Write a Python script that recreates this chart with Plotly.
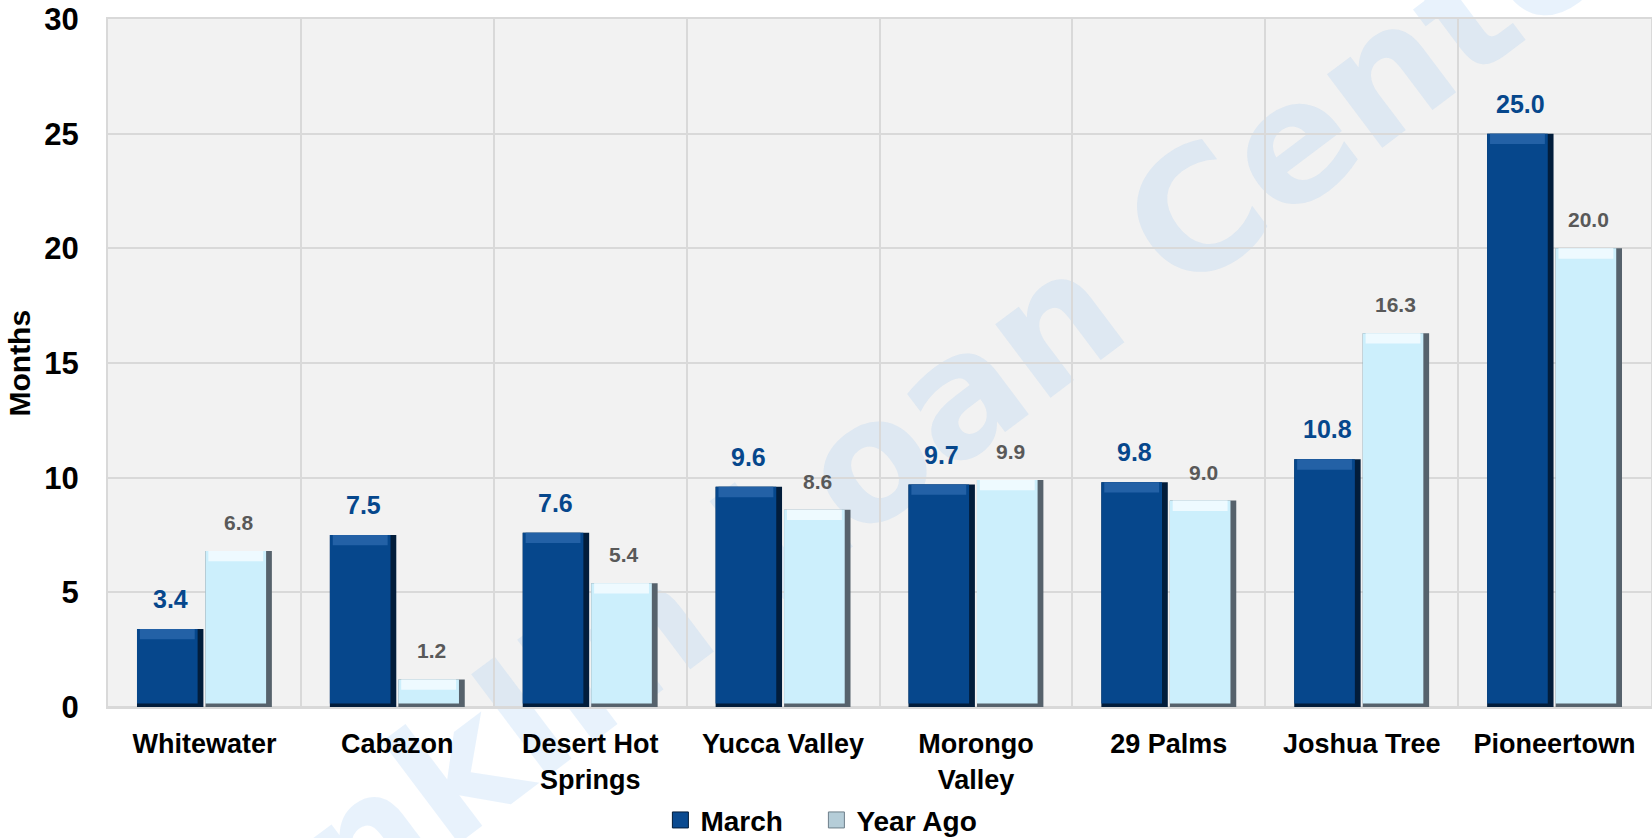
import plotly.graph_objects as go

categories = ["Whitewater", "Cabazon", "Desert Hot<br>Springs", "Yucca Valley",
              "Morongo<br>Valley", "29 Palms", "Joshua Tree", "Pioneertown"]
march = [3.4, 7.5, 7.6, 9.6, 9.7, 9.8, 10.8, 25.0]
year_ago = [6.8, 1.2, 5.4, 8.6, 9.9, 9.0, 16.3, 20.0]
series_names = ["March", "Year Ago"]
y_ticks = [0, 5, 10, 15, 20, 25, 30]
watermark = "Franklin Loan Center"

FONT = "Liberation Sans, Arial, sans-serif"
GRID = "#D9D9D9"

# style per series: body, top bevel, right/bottom edge, label colour/size
styles = [
    dict(body="#06478C", top="#2361A6", edge="#021D3B", label="#06478C", size=25, shift=14),
    dict(body="#CCEFFC", top="#EEFAFF", edge="#56626C", label="#595959", size=21, shift=15),
]

BARGAP = 0.29
GROUPGAP = 0.03
slot = (1 - BARGAP) / 2
w = slot * (1 - GROUPGAP)          # bar width (category units)
EDGE = 0.03                         # right-edge shade width (category units)
TOP = 0.45                          # top bevel height (value units)
BOTTOM = 0.15                       # bottom edge shade (value units)

fig = go.Figure()
for k, (vals, st) in enumerate(zip([march, year_ago], styles)):
    c = -slot / 2 if k == 0 else slot / 2
    left = c - w / 2
    fig.add_trace(go.Bar(x=categories, y=vals, offset=left, width=w,
                         marker=dict(color=st["edge"], line=dict(width=0)),
                         name=series_names[k], showlegend=False, hoverinfo="x+y"))
    fig.add_trace(go.Bar(x=categories, y=[v - BOTTOM for v in vals], base=BOTTOM,
                         offset=left, width=w - EDGE,
                         marker=dict(color=st["body"], line=dict(width=0)),
                         showlegend=False, hoverinfo="skip"))
    fig.add_trace(go.Bar(x=categories, y=[TOP] * len(vals), base=[v - TOP for v in vals],
                         offset=left + EDGE / 2, width=w - 2 * EDGE,
                         marker=dict(color=st["top"], line=dict(width=0)),
                         showlegend=False, hoverinfo="skip"))

# legend entries (square swatches)
fig.add_trace(go.Scatter(x=[None], y=[None], mode="markers", name=series_names[0],
                         legendwidth=111,
                         marker=dict(symbol="square", size=16, color="#0A4A90",
                                     line=dict(color="#021D3B", width=1))))
fig.add_trace(go.Scatter(x=[None], y=[None], mode="markers", name=series_names[1],
                         marker=dict(symbol="square", size=16, color="#B5CDD8",
                                     line=dict(color="#6E7F8A", width=1))))

annotations = []
for k, (vals, st) in enumerate(zip([march, year_ago], styles)):
    c = -slot / 2 if k == 0 else slot / 2
    for i, v in enumerate(vals):
        annotations.append(dict(x=i + c, y=v, xref="x", yref="y", text=f"{v:.1f}",
                                showarrow=False, yanchor="bottom", yshift=st["shift"],
                                font=dict(family=FONT, size=st["size"], color=st["label"],
                                          weight="bold")))

annotations.append(dict(x=-0.058, y=0.5, xref="paper", yref="paper", text="Months",
                        textangle=-90, showarrow=False, xanchor="center", yanchor="middle",
                        font=dict(family=FONT, size=30, color="black", weight="bold")))

shapes = [dict(type="rect", xref="paper", yref="paper", x0=0.476, x1=0.496, y0=0.356, y1=0.376,
               layer="below", line=dict(width=0), fillcolor="rgba(0,0,0,0)",
               label=dict(text=watermark, textangle=-37, textposition="middle center",
                          font=dict(family="DejaVu Sans", size=168, weight="bold",
                                    color="rgba(150,195,240,0.22)")))]

fig.update_layout(
    width=1652, height=838,
    margin=dict(l=108, r=1, t=19, b=131, autoexpand=False),
    paper_bgcolor="white",
    plot_bgcolor="#F2F2F2",
    barmode="overlay",
    font=dict(family=FONT, color="black"),
    annotations=annotations,
    shapes=shapes,
    legend=dict(orientation="h", x=0.358, xanchor="left", y=-0.1646, yanchor="middle",
                font=dict(family=FONT, size=28, color="black", weight="bold"),
                bgcolor="rgba(0,0,0,0)", itemwidth=30),
    xaxis=dict(type="category", tickson="boundaries", showgrid=True, gridcolor=GRID,
               gridwidth=2, ticks="", showline=True, mirror=True, linecolor=GRID,
               linewidth=2, automargin=False, ticklabelstandoff=12,
               tickfont=dict(family=FONT, size=27, color="black", weight="bold")),
    yaxis=dict(range=[0, 30], tickvals=y_ticks, showgrid=True, gridcolor=GRID,
               gridwidth=2, zeroline=True, zerolinecolor=GRID, zerolinewidth=2,
               showline=True, mirror=True, linecolor=GRID, linewidth=2, automargin=False,
               ticks="", ticklabelstandoff=21,
               tickfont=dict(family=FONT, size=31, color="black", weight="bold")),
)

fig.write_html("out.html", config={"displayModeBar": False},
               post_script="document.body.style.margin='0px';")
